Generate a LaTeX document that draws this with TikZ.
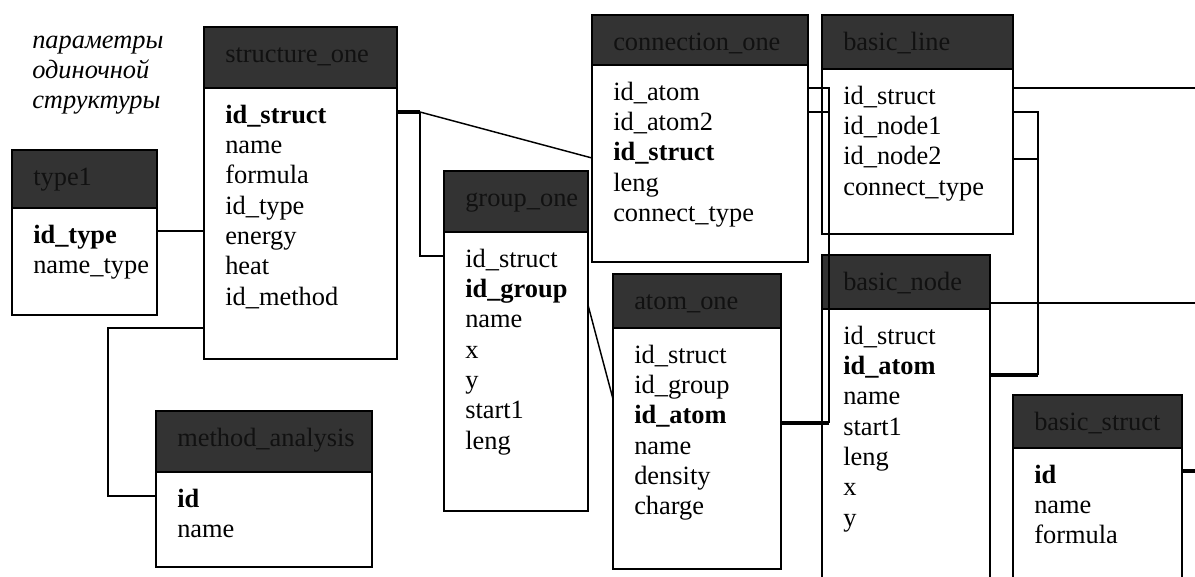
\documentclass[tikz,border=0pt]{standalone}
\usepackage{fontspec}
\setmainfont{Liberation Serif}
\usepackage{tikz}
\usetikzlibrary{positioning}

\definecolor{headgray}{HTML}{333333}
\definecolor{titlegray}{HTML}{111111}

\tikzset{
  dbhead/.style={draw, fill=headgray, line width=1.1pt, outer sep=0pt, inner sep=0pt, anchor=north west},
  dbbody/.style={draw, fill=white, line width=1.1pt, outer sep=0pt, inner sep=0pt},
  dbtitle/.style={anchor=base west, inner sep=0pt, text=titlegray},
  dbrow/.style={anchor=base west, inner sep=0pt},
  note/.style={anchor=base west, inner sep=0pt, align=left, font=\fontsize{19.8pt}{22.5pt}\selectfont\itshape},
  link/.style={line width=1.1pt},
  keylink/.style={line width=2.6pt},
}

% one table: name, top-left corner, width, header height, body height, title, rows
\newcommand{\dbtable}[7]{%
  \node[dbhead, minimum width=#3*0.75pt, minimum height=#4*0.75pt] (#1-h) at (#2) {};
  \node[dbbody, below=0pt of #1-h, minimum width=#3*0.75pt, minimum height=#5*0.75pt] (#1) {};
  \node[dbtitle] (#1-t) at ([shift={(15.75pt,-26.25pt)}]#1-h.north west) {#6};
  \foreach \r [count=\i] in {#7}
    \node[dbrow] (#1-\i) at ([xshift=15.75pt, yshift=-26.25pt-22.75pt*(\i-1)]#1.north west) {\r};
}

\begin{document}
\begin{tikzpicture}[x=0.75pt, y=-0.75pt, font=\fontsize{19.8pt}{22.5pt}\selectfont]
  \path[fill=white, use as bounding box] (0,0) rectangle (1195,576);
  \clip (0,0) rectangle (1195,576);

  % Define nodes (the note sits on the baseline of its last line)
  \node[note] (caption) at (32,108) {параметры\\одиночной\\структуры};
  \dbtable{sone}{204,27}{193}{61}{271}{structure\_one}{\textbf{id\_struct}, name, formula, id\_type, energy, heat, id\_method}
  \dbtable{type}{12,150}{145}{58}{107}{type1}{\textbf{id\_type}, name\_type}
  \dbtable{method}{156,411}{216}{61}{95}{method\_analysis}{\textbf{id}, name}
  \dbtable{conn}{592,15}{216}{50}{197}{connection\_one}{id\_atom, id\_atom2, \textbf{id\_struct}, leng, connect\_type}
  \dbtable{group}{444,171}{144}{61}{279}{group\_one}{id\_struct, \textbf{id\_group}, name, x, y, start1, leng}
  \dbtable{atom}{613,274}{168}{54}{241}{atom\_one}{id\_struct, id\_group, \textbf{id\_atom}, name, density, charge}
  \dbtable{bline}{822,15}{191}{54}{165}{basic\_line}{id\_struct, id\_node1, id\_node2, connect\_type}
  \dbtable{bnode}{822,255}{168}{54}{300}{basic\_node}{id\_struct, \textbf{id\_atom}, name, start1, leng, x, y}
  \dbtable{bstruct}{1013,395}{169}{53}{300}{basic\_struct}{\textbf{id}, name, formula}

  % Connect the nodes
  \coordinate (sjoint) at (420,112);
  \coordinate (mbend) at (108,496);
  \coordinate (abus) at (829,423);
  \coordinate (nbus) at (1038,375);
  \coordinate (offright) at (1195,0);

  \coordinate (type-k) at ([yshift=-17.25pt]type.north east);
  \draw[link] (type-k) -- (type-k -| sone.west);

  \coordinate (sone-m) at ([yshift=-180pt]sone.north west);
  \coordinate (method-k) at ([yshift=-18pt]method.north west);
  \draw[link] (sone-m) -| (mbend) -- (method-k);

  \coordinate (sone-k) at ([yshift=-18pt]sone.north east);
  \coordinate (conn-s) at ([yshift=-69.75pt]conn.north west);
  \coordinate (group-s) at ([yshift=-18pt]group.north west);
  \draw[keylink] (sone-k) -- (sjoint);
  \draw[link] (sjoint) -- (conn-s);
  \draw[link] (sjoint) |- (group-s);

  \coordinate (group-k) at ([yshift=-54.75pt]group.north east);
  \coordinate (atom-g) at ([yshift=-53.25pt]atom.north west);
  \draw[link] (group-k) -- (atom-g);

  \coordinate (atom-k) at ([yshift=-71.25pt]atom.north east);
  \coordinate (conn-a1) at ([yshift=-17.25pt]conn.north east);
  \coordinate (conn-a2) at ([yshift=-35.25pt]conn.north east);
  \draw[keylink] (atom-k) -- (abus);
  \draw[link] (abus) |- (conn-a1);
  \draw[link] (conn-a2) -| (abus);

  \coordinate (bline-s) at ([yshift=-14.25pt]bline.north east);
  \coordinate (bline-n1) at ([yshift=-32.25pt]bline.north east);
  \coordinate (bline-n2) at ([yshift=-67.5pt]bline.north east);
  \coordinate (bnode-k) at ([yshift=-49.5pt]bnode.north east);
  \draw[link] (bline-s) -- (bline-s -| offright);
  \draw[keylink] (bnode-k) -- (nbus);
  \draw[link] (nbus) |- (bline-n1);
  \draw[link] (bline-n2) -| (nbus);

  \coordinate (bnode-r) at ([yshift=4.5pt]bnode-h.south east);
  \draw[link] (bnode-r) -- (bnode-r -| offright);

  \coordinate (bstruct-k) at ([yshift=-17.25pt]bstruct.north east);
  \draw[keylink] (bstruct-k) -- (bstruct-k -| offright);
\end{tikzpicture}
\end{document}
